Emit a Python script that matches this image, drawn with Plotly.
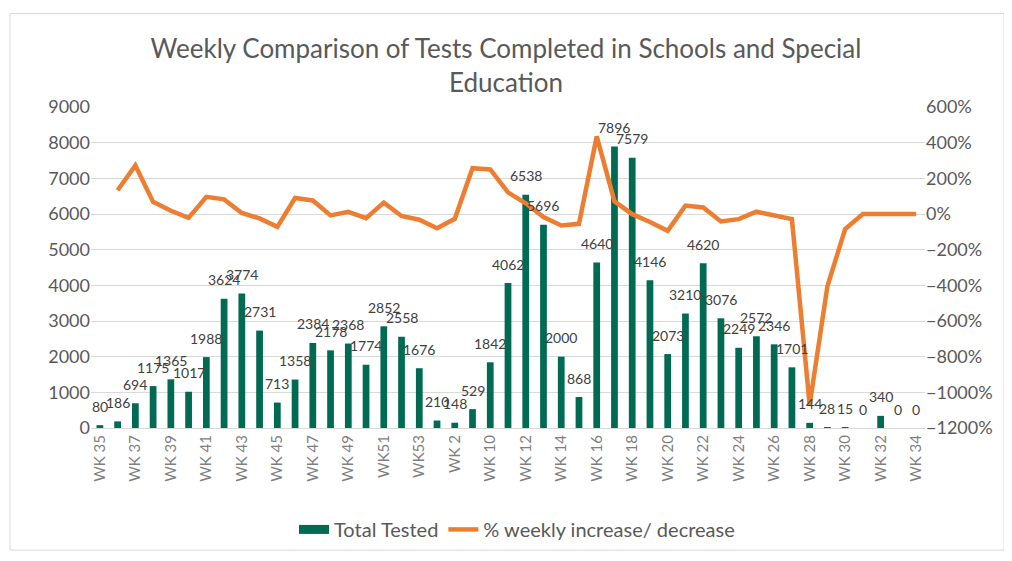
import plotly.graph_objects as go

weeks = ["WK 35", "WK 36", "WK 37", "WK 38", "WK 39", "WK 40", "WK 41", "WK 42",
         "WK 43", "WK 44", "WK 45", "WK 46", "WK 47", "WK 48", "WK 49", "WK 50",
         "WK51", "WK52", "WK53", "WK 1", "WK 2", "WK 9", "WK 10", "WK 11", "WK 12",
         "WK 13", "WK 14", "WK 15", "WK 16", "WK 17", "WK 18", "WK 19", "WK 20",
         "WK 21", "WK 22", "WK 23", "WK 24", "WK 25", "WK 26", "WK 27", "WK 28",
         "WK 29", "WK 30", "WK 31", "WK 32", "WK 33", "WK 34"]

total_tested = [80, 186, 694, 1175, 1365, 1017, 1988, 3624, 3774, 2731, 713, 1358,
                2384, 2178, 2368, 1774, 2852, 2558, 1676, 210, 148, 529, 1842, 4062,
                6538, 5696, 2000, 868, 4640, 7896, 7579, 4146, 2073, 3210, 4620, 3076,
                2249, 2572, 2346, 1701, 144, 28, 15, 0, 340, 0, 0]

pct_change = [None, 1.33, 2.72, 0.68, 0.18, -0.22, 0.96, 0.82, 0.06, -0.25, -0.72,
              0.90, 0.76, -0.08, 0.12, -0.23, 0.64, -0.11, -0.32, -0.80, -0.27, 2.57,
              2.50, 1.21, 0.60, -0.17, -0.64, -0.55, 4.35, 0.71, -0.01, -0.45, -0.94,
              0.47, 0.37, -0.42, -0.29, 0.13, -0.08, -0.29, -10.70, -4.05, -0.85,
              0, 0, 0, 0]

tick_weeks = weeks[::2]

GREEN = "#006A53"
ORANGE = "#ED7D31"
GREY = "#595959"
FONT = "Lato"

OFF = 8  # page body margin
W, H = 1012 - OFF, 561 - OFF
L, R, T, B = 91 - OFF, 87, 107 - OFF, 128
pw, ph = W - L - R, H - T - B


def px_x(p):
    return (p - OFF - L) / pw


def px_y(p):
    return (H - B - (p - OFF)) / ph


fig = go.Figure()
fig.add_trace(go.Bar(
    x=weeks, y=total_tested, name="Total Tested", showlegend=False,
    marker=dict(color=GREEN, line=dict(width=0)),
))
fig.add_trace(go.Scatter(
    x=[None], y=[None], name="Total Tested", mode="lines",
    line=dict(color=GREEN, width=9), showlegend=True,
))
fig.add_trace(go.Scatter(
    x=weeks, y=pct_change, name="% weekly increase/ decrease", yaxis="y2",
    mode="lines", line=dict(color=ORANGE, width=4.5), connectgaps=False,
))

for wk, v in zip(weeks, total_tested):
    fig.add_annotation(x=wk, y=v, xref="x", yref="y", text=str(v), showarrow=False,
                       yshift=19, font=dict(family=FONT, size=14, color="#404040"))

fig.add_shape(type="rect", xref="paper", yref="paper",
              x0=px_x(10), x1=px_x(1004), y0=px_y(12), y1=px_y(557),
              line=dict(color="#D9D9D9", width=1), fillcolor="rgba(0,0,0,0)", layer="below")

fig.update_layout(
    width=W, height=H,
    margin=dict(l=L, r=R, t=T, b=B),
    paper_bgcolor="white", plot_bgcolor="white",
    bargap=0.62,
    font=dict(family=FONT, color=GREY),
    title=dict(text="Weekly Comparison of Tests Completed in Schools and Special<br>Education",
               x=(506 - OFF) / W, xanchor="center", y=1 - (58 - OFF) / H, yanchor="middle",
               yref="container", xref="container",
               font=dict(family=FONT, size=26, color=GREY)),
    xaxis=dict(type="category", tickmode="array", tickvals=tick_weeks, ticktext=tick_weeks,
               tickangle=-90, tickfont=dict(size=15, color="#7F7F7F"),
               showgrid=False, showline=True, linecolor="#D9D9D9", linewidth=1,
               ticks="", range=[-0.5, len(weeks) - 0.5]),
    yaxis=dict(range=[0, 9000], dtick=1000, tick0=0, showgrid=True, gridcolor="#D9D9D9",
               gridwidth=1, zeroline=False, tickfont=dict(size=18, color=GREY),
               ticks="", showline=False),
    yaxis2=dict(range=[-12, 6], dtick=2, tick0=0, overlaying="y", side="right",
                showgrid=False, zeroline=False, tickformat=".0%",
                tickfont=dict(size=18, color=GREY), ticks=""),
    legend=dict(orientation="h", x=px_x(517), xanchor="center", y=px_y(536), yanchor="middle",
                font=dict(size=20, color=GREY), traceorder="normal"),
    showlegend=True,
)

fig.write_html("out.html")
